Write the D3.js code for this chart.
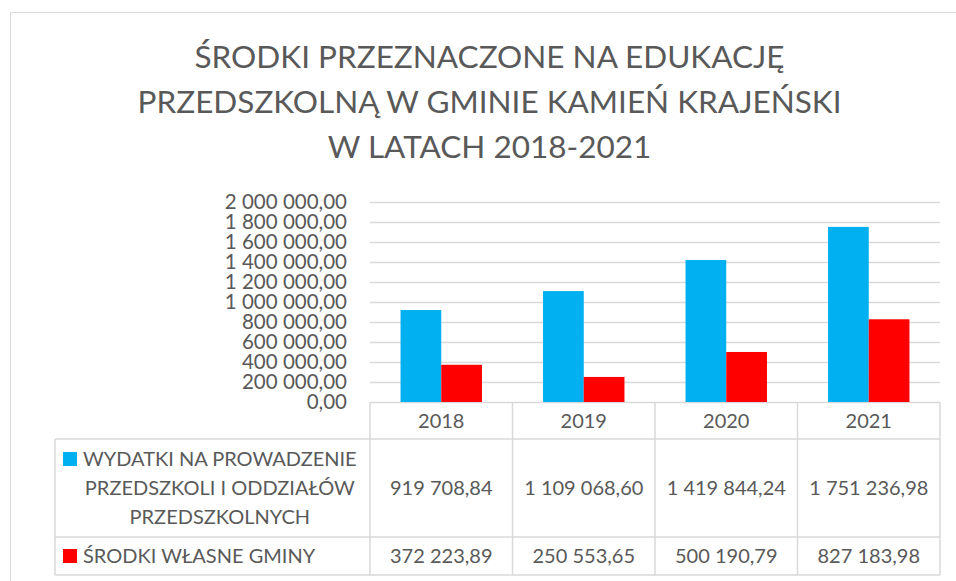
<!DOCTYPE html>
<html>
<head>
<meta charset="utf-8">
<script src="https://cdn.jsdelivr.net/npm/d3@7"></script>
<style>
  body { margin: 0; background: #fff; }
  text { font-family: Lato, "Open Sans", sans-serif; fill: #595959; }
</style>
</head>
<body>
<div id="container-chart"></div>
<script>
// data
const years = ["2018", "2019", "2020", "2021"];
const seriesKeys = ["wydatki", "srodki"];
const seriesColors = ["#00b0f0", "#ff0000"];
const seriesLabels = [
  ["WYDATKI NA PROWADZENIE", "PRZEDSZKOLI I ODDZIAŁÓW", "PRZEDSZKOLNYCH"],
  ["ŚRODKI WŁASNE GMINY"]
];
const wydatki = [919708.84, 1109068.60, 1419844.24, 1751236.98];
const srodki = [372223.89, 250553.65, 500190.79, 827183.98];
const yTicks = [0, 200000, 400000, 600000, 800000, 1000000, 1200000, 1400000, 1600000, 1800000, 2000000];
const titleLines = [
  "ŚRODKI PRZEZNACZONE NA EDUKACJĘ",
  "PRZEDSZKOLNĄ W GMINIE KAMIEŃ KRAJEŃSKI",
  "W LATACH 2018-2021"
];

const values = [wydatki, srodki];

const W = 956, H = 581;
const plot = {left: 370, right: 940, top: 202, bottom: 402};
const rows = [439, 537, 575];      // bottom edge of each table row
const tableLeft = 55;
const gridColor = "#d9d9d9";

const pl = d3.formatLocale({decimal: ",", thousands: " ", grouping: [3], currency: ["", ""]});
const fmt = pl.format(",.2f");

const svg = d3.select("#container-chart")
  .append("svg")
  .attr("width", W)
  .attr("height", H);

// outer chart frame (cut off at right and bottom)
svg.append("rect")
  .attr("x", 10.5).attr("y", 12.5)
  .attr("width", W + 20).attr("height", H + 20)
  .attr("fill", "none")
  .attr("stroke", gridColor)
  .attr("stroke-width", 1);

// title
svg.append("g")
  .selectAll("text")
  .data(titleLines)
  .join("text")
  .attr("x", 489.5)
  .attr("y", (d, i) => 68 + i * 45)
  .attr("text-anchor", "middle")
  .attr("font-size", 31.5)
  .text(d => d);

const x = d3.scaleBand()
  .domain(years)
  .range([plot.left, plot.right])
  .paddingInner(0)
  .paddingOuter(0);

const xInner = d3.scaleBand()
  .domain(seriesKeys)
  .range([0, x.bandwidth()])
  .paddingInner(0)
  .paddingOuter(0.75);

const y = d3.scaleLinear()
  .domain([0, 2000000])
  .range([plot.bottom, plot.top]);

// y axis with gridlines
const yAxis = svg.append("g")
  .attr("transform", "translate(" + plot.left + ",0)")
  .call(d3.axisLeft(y)
    .tickValues(yTicks)
    .tickFormat(fmt)
    .tickSizeInner(-(plot.right - plot.left))
    .tickSizeOuter(0)
    .tickPadding(23));
yAxis.select(".domain").remove();
yAxis.selectAll(".tick line")
  .attr("stroke", gridColor)
  .attr("stroke-width", 1.5);
yAxis.selectAll(".tick text")
  .attr("font-size", 20.5)
  .attr("font-family", null)
  .attr("fill", null);

// bars
svg.append("g")
  .selectAll("g")
  .data(seriesKeys)
  .join("g")
  .attr("fill", (d, i) => seriesColors[i])
  .selectAll("rect")
  .data((k, i) => values[i].map((v, j) => ({key: k, year: years[j], value: v})))
  .join("rect")
  .attr("x", d => x(d.year) + xInner(d.key))
  .attr("y", d => y(d.value))
  .attr("width", xInner.bandwidth())
  .attr("height", d => y(0) - y(d.value));

// data table
const table = svg.append("g")
  .attr("stroke", gridColor)
  .attr("stroke-width", 1.5)
  .attr("fill", "none");

const colEdges = years.map(d => x(d)).concat([x.range()[1]]);
table.selectAll("line.col")
  .data(colEdges)
  .join("line")
  .attr("class", "col")
  .attr("x1", d => d).attr("x2", d => d)
  .attr("y1", plot.bottom).attr("y2", rows[2]);

table.selectAll("line.row")
  .data(rows)
  .join("line")
  .attr("class", "row")
  .attr("x1", tableLeft).attr("x2", plot.right)
  .attr("y1", d => d).attr("y2", d => d);

table.append("line")
  .attr("x1", tableLeft).attr("x2", tableLeft)
  .attr("y1", rows[0]).attr("y2", rows[2]);

// year headers
svg.append("g")
  .selectAll("text")
  .data(years)
  .join("text")
  .attr("x", d => x(d) + x.bandwidth() / 2)
  .attr("y", 428)
  .attr("text-anchor", "middle")
  .attr("font-size", 20)
  .text(d => d);

// table rows: legend key + label + values
const rowTop = [rows[0], rows[1]];
const rowBottom = [rows[1], rows[2]];

seriesKeys.forEach((k, i) => {
  const mid = (rowTop[i] + rowBottom[i]) / 2;
  const lines = seriesLabels[i];
  const lineH = 29;
  const firstBase = mid + 7 - (lines.length - 1) / 2 * lineH;

  const g = svg.append("g");
  const texts = g.selectAll("text")
    .data(lines)
    .join("text")
    .attr("y", (d, j) => firstBase + j * lineH)
    .attr("font-size", 20)
    .attr("text-anchor", "middle")
    .text(d => d);

  let maxW = 0;
  texts.each(function() { maxW = Math.max(maxW, this.getComputedTextLength()); });
  const textLeft = 83;
  texts.attr("x", textLeft + maxW / 2);

  g.append("rect")
    .attr("x", 63)
    .attr("y", firstBase - 14)
    .attr("width", 14)
    .attr("height", 14)
    .attr("fill", seriesColors[i]);

  svg.append("g")
    .selectAll("text")
    .data(values[i])
    .join("text")
    .attr("x", (d, j) => x(years[j]) + x.bandwidth() / 2)
    .attr("y", mid + 7)
    .attr("text-anchor", "middle")
    .attr("font-size", 20)
    .text(d => fmt(d));
});
</script>
</body>
</html>
